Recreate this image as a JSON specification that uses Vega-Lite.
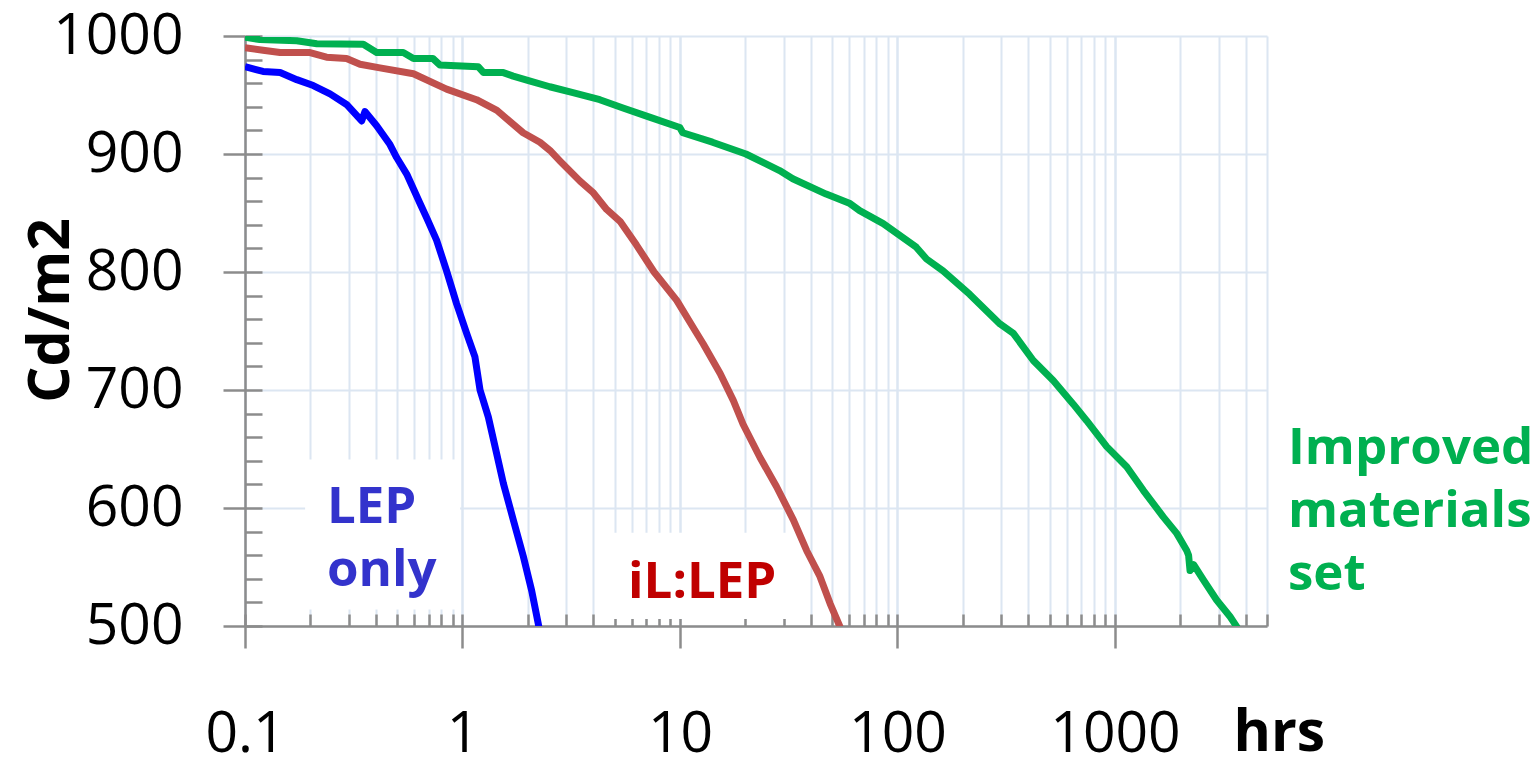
{
  "$schema": "https://vega.github.io/schema/vega-lite/v6.json",
  "width": 1022,
  "height": 590,
  "autosize": {"type": "none"},
  "padding": {"left": 245, "top": 36, "right": 264, "bottom": 132},
  "background": "white",
  "config": {"view": {"stroke": null}},
  "datasets": {
    "curves": [
      {"series": "LEP only", "hrs": 0.1, "cd": 974},
      {"series": "LEP only", "hrs": 0.121, "cd": 970},
      {"series": "LEP only", "hrs": 0.145, "cd": 969},
      {"series": "LEP only", "hrs": 0.173, "cd": 963},
      {"series": "LEP only", "hrs": 0.206, "cd": 958},
      {"series": "LEP only", "hrs": 0.246, "cd": 951},
      {"series": "LEP only", "hrs": 0.293, "cd": 942},
      {"series": "LEP only", "hrs": 0.344, "cd": 928},
      {"series": "LEP only", "hrs": 0.356, "cd": 936},
      {"series": "LEP only", "hrs": 0.403, "cd": 924},
      {"series": "LEP only", "hrs": 0.464, "cd": 908},
      {"series": "LEP only", "hrs": 0.498, "cd": 897},
      {"series": "LEP only", "hrs": 0.554, "cd": 883},
      {"series": "LEP only", "hrs": 0.638, "cd": 858},
      {"series": "LEP only", "hrs": 0.684, "cd": 846},
      {"series": "LEP only", "hrs": 0.76, "cd": 827},
      {"series": "LEP only", "hrs": 0.845, "cd": 801},
      {"series": "LEP only", "hrs": 0.94, "cd": 773},
      {"series": "LEP only", "hrs": 1.045, "cd": 748},
      {"series": "LEP only", "hrs": 1.141, "cd": 728},
      {"series": "LEP only", "hrs": 1.204, "cd": 700},
      {"series": "LEP only", "hrs": 1.315, "cd": 677},
      {"series": "LEP only", "hrs": 1.436, "cd": 646},
      {"series": "LEP only", "hrs": 1.541, "cd": 621},
      {"series": "LEP only", "hrs": 1.712, "cd": 590},
      {"series": "LEP only", "hrs": 1.904, "cd": 559},
      {"series": "LEP only", "hrs": 2.08, "cd": 530},
      {"series": "LEP only", "hrs": 2.23, "cd": 502},
      {"series": "LEP only", "hrs": 2.27, "cd": 494},
      {"series": "iL:LEP", "hrs": 0.1, "cd": 990},
      {"series": "iL:LEP", "hrs": 0.121, "cd": 988},
      {"series": "iL:LEP", "hrs": 0.145, "cd": 986},
      {"series": "iL:LEP", "hrs": 0.199, "cd": 986},
      {"series": "iL:LEP", "hrs": 0.237, "cd": 982},
      {"series": "iL:LEP", "hrs": 0.293, "cd": 981},
      {"series": "iL:LEP", "hrs": 0.338, "cd": 976},
      {"series": "iL:LEP", "hrs": 0.417, "cd": 973},
      {"series": "iL:LEP", "hrs": 0.595, "cd": 968},
      {"series": "iL:LEP", "hrs": 0.845, "cd": 955},
      {"series": "iL:LEP", "hrs": 1.16, "cd": 946},
      {"series": "iL:LEP", "hrs": 1.44, "cd": 937},
      {"series": "iL:LEP", "hrs": 1.9, "cd": 918},
      {"series": "iL:LEP", "hrs": 2.27, "cd": 910},
      {"series": "iL:LEP", "hrs": 2.525, "cd": 903},
      {"series": "iL:LEP", "hrs": 2.81, "cd": 894},
      {"series": "iL:LEP", "hrs": 3.47, "cd": 877},
      {"series": "iL:LEP", "hrs": 4.0, "cd": 867},
      {"series": "iL:LEP", "hrs": 4.6, "cd": 853},
      {"series": "iL:LEP", "hrs": 5.3, "cd": 843},
      {"series": "iL:LEP", "hrs": 6.3, "cd": 823},
      {"series": "iL:LEP", "hrs": 7.6, "cd": 800},
      {"series": "iL:LEP", "hrs": 9.66, "cd": 776},
      {"series": "iL:LEP", "hrs": 11.5, "cd": 753},
      {"series": "iL:LEP", "hrs": 12.8, "cd": 739},
      {"series": "iL:LEP", "hrs": 15.3, "cd": 714},
      {"series": "iL:LEP", "hrs": 17.6, "cd": 691},
      {"series": "iL:LEP", "hrs": 19.5, "cd": 671},
      {"series": "iL:LEP", "hrs": 23.3, "cd": 643},
      {"series": "iL:LEP", "hrs": 27.8, "cd": 618},
      {"series": "iL:LEP", "hrs": 33.2, "cd": 590},
      {"series": "iL:LEP", "hrs": 38.2, "cd": 564},
      {"series": "iL:LEP", "hrs": 44.0, "cd": 542},
      {"series": "iL:LEP", "hrs": 49.0, "cd": 519},
      {"series": "iL:LEP", "hrs": 54.5, "cd": 499},
      {"series": "iL:LEP", "hrs": 56.5, "cd": 494},
      {"series": "Improved materials set", "hrs": 0.1, "cd": 999},
      {"series": "Improved materials set", "hrs": 0.117, "cd": 997},
      {"series": "Improved materials set", "hrs": 0.173, "cd": 996},
      {"series": "Improved materials set", "hrs": 0.214, "cd": 993.5},
      {"series": "Improved materials set", "hrs": 0.35, "cd": 993},
      {"series": "Improved materials set", "hrs": 0.403, "cd": 986},
      {"series": "Improved materials set", "hrs": 0.534, "cd": 986},
      {"series": "Improved materials set", "hrs": 0.595, "cd": 981},
      {"series": "Improved materials set", "hrs": 0.73, "cd": 981},
      {"series": "Improved materials set", "hrs": 0.786, "cd": 975.5},
      {"series": "Improved materials set", "hrs": 1.18, "cd": 974},
      {"series": "Improved materials set", "hrs": 1.25, "cd": 969},
      {"series": "Improved materials set", "hrs": 1.54, "cd": 969},
      {"series": "Improved materials set", "hrs": 1.71, "cd": 966},
      {"series": "Improved materials set", "hrs": 2.03, "cd": 962},
      {"series": "Improved materials set", "hrs": 2.52, "cd": 957},
      {"series": "Improved materials set", "hrs": 3.22, "cd": 952},
      {"series": "Improved materials set", "hrs": 4.28, "cd": 946},
      {"series": "Improved materials set", "hrs": 5.47, "cd": 939},
      {"series": "Improved materials set", "hrs": 7.3, "cd": 931},
      {"series": "Improved materials set", "hrs": 9.98, "cd": 922.5},
      {"series": "Improved materials set", "hrs": 10.3, "cd": 918},
      {"series": "Improved materials set", "hrs": 14.1, "cd": 910},
      {"series": "Improved materials set", "hrs": 20.1, "cd": 900},
      {"series": "Improved materials set", "hrs": 28.7, "cd": 886},
      {"series": "Improved materials set", "hrs": 33.0, "cd": 879},
      {"series": "Improved materials set", "hrs": 47.0, "cd": 866},
      {"series": "Improved materials set", "hrs": 60.5, "cd": 858},
      {"series": "Improved materials set", "hrs": 67.0, "cd": 852},
      {"series": "Improved materials set", "hrs": 86.0, "cd": 841},
      {"series": "Improved materials set", "hrs": 122, "cd": 821},
      {"series": "Improved materials set", "hrs": 136, "cd": 811},
      {"series": "Improved materials set", "hrs": 162, "cd": 801},
      {"series": "Improved materials set", "hrs": 215, "cd": 781},
      {"series": "Improved materials set", "hrs": 296, "cd": 756},
      {"series": "Improved materials set", "hrs": 341, "cd": 748},
      {"series": "Improved materials set", "hrs": 421, "cd": 725},
      {"series": "Improved materials set", "hrs": 520, "cd": 708},
      {"series": "Improved materials set", "hrs": 643, "cd": 688},
      {"series": "Improved materials set", "hrs": 741, "cd": 674},
      {"series": "Improved materials set", "hrs": 916, "cd": 652},
      {"series": "Improved materials set", "hrs": 1132, "cd": 635},
      {"series": "Improved materials set", "hrs": 1349, "cd": 615},
      {"series": "Improved materials set", "hrs": 1667, "cd": 592.5},
      {"series": "Improved materials set", "hrs": 1923, "cd": 578.5},
      {"series": "Improved materials set", "hrs": 2137, "cd": 564},
      {"series": "Improved materials set", "hrs": 2180, "cd": 560},
      {"series": "Improved materials set", "hrs": 2213, "cd": 547},
      {"series": "Improved materials set", "hrs": 2300, "cd": 552},
      {"series": "Improved materials set", "hrs": 2549, "cd": 539},
      {"series": "Improved materials set", "hrs": 2933, "cd": 522},
      {"series": "Improved materials set", "hrs": 3379, "cd": 508},
      {"series": "Improved materials set", "hrs": 3627, "cd": 499.5},
      {"series": "Improved materials set", "hrs": 3750, "cd": 494}
    ],
    "labels": [
      {"series": "LEP only", "hrs": 0.238, "cd": 587, "text": ["LEP", "only"]},
      {"series": "iL:LEP", "hrs": 5.77, "cd": 524, "text": ["iL:LEP"]},
      {"series": "Improved materials set", "hrs": 6240, "cd": 637, "text": ["Improved", "materials", "set"]}
    ],
    "boxes": [
      {"series": "LEP only", "hrs": 0.189, "hrs2": 0.975, "cd": 641, "cd2": 514},
      {"series": "iL:LEP", "hrs": 4.9, "hrs2": 36, "cd": 579, "cd2": 506}
    ]
  },
  "layer": [
    {
      "data": {"name": "boxes"},
      "mark": {"type": "rect", "fill": "white", "stroke": null},
      "encoding": {
        "x": {"field": "hrs", "type": "quantitative", "axis": null},
        "x2": {"field": "hrs2"},
        "y": {"field": "cd", "type": "quantitative", "axis": null},
        "y2": {"field": "cd2"}
      }
    },
    {
      "data": {"name": "curves"},
      "mark": {"type": "line", "clip": true, "strokeWidth": 7, "strokeJoin": "round", "strokeCap": "butt"},
      "encoding": {
        "x": {
          "field": "hrs", "type": "quantitative",
          "scale": {"type": "log", "domain": [0.1, 5000], "nice": false},
          "axis": {
            "orient": "bottom",
            "values": [0.1, 1, 10, 100, 1000],
            "format": "~g",
            "tickSize": 22, "tickWidth": 2.5, "tickColor": "#8c8c8c",
            "domain": true, "domainColor": "#8c8c8c", "domainWidth": 2.5,
            "grid": true, "gridColor": "#dce6f2", "gridWidth": 2,
            "labelFont": "Open Sans", "labelFontSize": 57, "labelColor": "#000000",
            "labelPadding": 58, "labelFlush": false, "labelOverlap": false,
            "title": "hrs", "titleFont": "Open Sans", "titleFontSize": 57, "titleFontWeight": "bold",
            "titleColor": "#000000", "titleX": 988, "titleY": 124, "titleAlign": "left",
            "titleBaseline": "alphabetic", "titleAngle": 0
          }
        },
        "y": {
          "field": "cd", "type": "quantitative",
          "scale": {"domain": [500, 1000], "nice": false, "zero": false},
          "axis": {
            "orient": "left",
            "values": [500, 600, 700, 800, 900, 1000],
            "format": "d",
            "tickSize": 22, "tickWidth": 2.5, "tickColor": "#8c8c8c",
            "domain": true, "domainColor": "#8c8c8c", "domainWidth": 2.5,
            "grid": true, "gridColor": "#dce6f2", "gridWidth": 2,
            "labelFont": "Open Sans", "labelFontSize": 57, "labelColor": "#000000",
            "labelPadding": 40, "labelFlush": false, "labelOverlap": false,
            "title": "Cd/m2", "titleFont": "Open Sans", "titleFontSize": 57, "titleFontWeight": "bold",
            "titleColor": "#000000", "titleX": -177, "titleY": 274, "titleAlign": "center",
            "titleBaseline": "alphabetic", "titleAngle": -90
          }
        },
        "color": {
          "field": "series", "type": "nominal", "legend": null,
          "scale": {"domain": ["LEP only", "iL:LEP", "Improved materials set"], "range": ["#0000ff", "#c0504d", "#00b050"]}
        }
      }
    },
    {
      "data": {"name": "labels"},
      "mark": {"type": "text", "font": "Open Sans", "fontWeight": "bold", "fontSize": 51, "align": "left", "baseline": "alphabetic", "lineHeight": 63, "clip": false},
      "encoding": {
        "x": {
          "field": "hrs", "type": "quantitative",
          "axis": {
            "orient": "bottom",
            "values": [0.1, 0.2, 0.3, 0.4, 0.5, 0.6, 0.7, 0.8, 0.9, 1, 2, 3, 4, 5, 6, 7, 8, 9, 10, 20, 30, 40, 50, 60, 70, 80, 90, 100, 200, 300, 400, 500, 600, 700, 800, 900, 1000, 2000, 3000, 4000, 5000],
            "tickSize": -12, "tickWidth": 2.5, "tickColor": "#8c8c8c",
            "domain": false, "labels": false, "title": null,
            "grid": true, "gridColor": "#dce6f2", "gridWidth": 2
          }
        },
        "y": {
          "field": "cd", "type": "quantitative",
          "axis": {
            "orient": "left",
            "values": [500, 520, 540, 560, 580, 600, 620, 640, 660, 680, 700, 720, 740, 760, 780, 800, 820, 840, 860, 880, 900, 920, 940, 960, 980, 1000],
            "tickSize": -17, "tickWidth": 2.5, "tickColor": "#8c8c8c",
            "domain": false, "labels": false, "title": null, "grid": false
          }
        },
        "text": {"field": "text"},
        "color": {
          "field": "series", "type": "nominal", "legend": null,
          "scale": {"domain": ["LEP only", "iL:LEP", "Improved materials set"], "range": ["#3333cc", "#c00000", "#00b050"]}
        }
      }
    }
  ],
  "resolve": {"axis": {"x": "independent", "y": "independent"}, "scale": {"color": "independent"}}
}
